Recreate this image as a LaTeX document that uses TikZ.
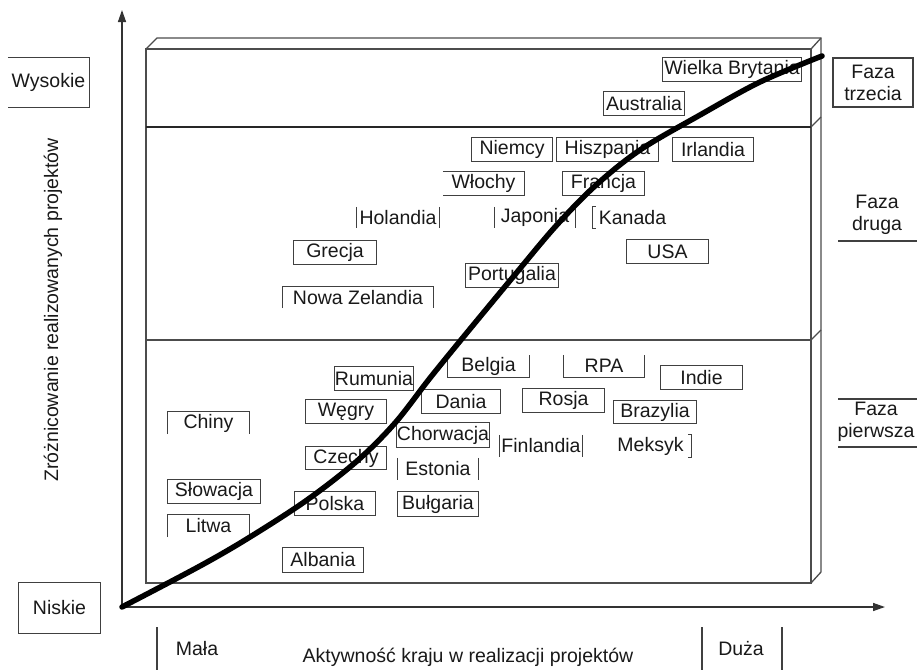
\documentclass[tikz,border=0pt]{standalone}
\usepackage{fontspec}
\setmainfont{Liberation Sans}
\usetikzlibrary{arrows.meta}
\newcommand\cnode[6]{\node[lbl, minimum width={(#4)-(#2)}, minimum height={(#5)-(#3)}] (#1) at ({((#2)+(#4))/2},{((#3)+(#5))/2}) {#6};}
\newcommand\boxfull[1]{\draw[cframe] (#1.south west) rectangle (#1.north east);}
\newcommand\boxopenbottom[1]{\draw[cframe] (#1.south west) -- (#1.north west) -- (#1.north east) -- (#1.south east);}
\newcommand\boxopentop[1]{\draw[cframe] (#1.north west) -- (#1.south west) -- (#1.south east) -- (#1.north east);}
\newcommand\boxopenleft[1]{\draw[cframe] (#1.north west) -- (#1.north east) -- (#1.south east) -- (#1.south west);}
\newcommand\boxsides[1]{\draw[cframe] (#1.north west) -- (#1.south west) (#1.north east) -- (#1.south east);}
\begin{document}
\begin{tikzpicture}[x=1pt,y=-1pt,
  lbl/.style={inner sep=0pt, font=\fontsize{19.5}{22}\selectfont, text=black!90},
  cframe/.style={draw=black!75, line width=1.1pt},
  boxline/.style={draw=black!70, line width=1.3pt},
  divline/.style={draw=black!85, line width=1.8pt},
  axis/.style={draw=black!80, line width=1.4pt, -{Triangle[length=12pt,width=8pt]}},
  curve/.style={draw=black, line width=5.5pt, line cap=round}]
\useasboundingbox (0,0) rectangle (917,670);

% 3D frame
\draw[boxline] (146,49) rectangle (811,583);
\draw[boxline] (146,49) -- (157,38) -- (821,38) -- (821,572) -- (811,583);
\draw[boxline] (811,49) -- (821,38);
\draw[divline] (146,127) -- (811,127);
\draw[boxline] (811,127) -- (821,117);
\draw[boxline] (146,340) -- (811,340);
\draw[boxline] (811,340) -- (821,330);

% axes
\coordinate (O) at (122,607);
\coordinate (Ytip) at (122,10);
\coordinate (Xtip) at (885,607);
\draw[axis] (O) -- (Ytip);
\draw[axis] (O) -- (Xtip);

% left labels
\cnode{wys}{8}{58}{89}{107}{Wysokie}
\draw[cframe] (wys.north west) -- (wys.north east) -- (wys.south east) -- (wys.south west);
\cnode{nis}{19}{583}{100}{633}{Niskie}
\boxfull{nis}
\node[lbl, rotate=90, font=\fontsize{19.5}{22}\selectfont] (ylab) at (53,310) {Zróżnicowanie realizowanych projektów};

% bottom labels
\node[lbl] (mala) at (197,649) {Mała};
\node[lbl] (xlab) at (468,657) {Aktywność kraju w realizacji projektów};
\node[lbl] (duza) at (741,649) {Duża};
\coordinate (m1) at (157,627); \coordinate (m2) at (157,670);
\coordinate (d1) at (702,627); \coordinate (d2) at (702,670);
\coordinate (d3) at (782,627); \coordinate (d4) at (782,670);
\draw[cframe] (m1) -- (m2) (d1) -- (d2) (d3) -- (d4);

% right labels
\node[lbl, draw=black!75, line width=1.1pt, minimum width=80pt, minimum height=49pt, align=center] (f3) at (873,82.5) {Faza\\trzecia};
\node[lbl, align=center] (f2) at (877,215) {Faza\\druga};
\coordinate (f2a) at (838,241); \coordinate (f2b) at (917,241);
\draw[cframe] (f2a) -- (f2b);
\node[lbl, align=center] (f1) at (876,422) {Faza\\pierwsza};
\coordinate (f1a) at (838,399); \coordinate (f1b) at (917,399);
\coordinate (f1c) at (838,447); \coordinate (f1d) at (917,447);
\draw[cframe] (f1a) -- (f1b) (f1c) -- (f1d);

% phase 3
\cnode{wb}{663}{58}{801}{81}{Wielka Brytania} \boxfull{wb}
\cnode{aus}{604}{92}{684}{115}{Australia} \boxfull{aus}
% phase 2
\cnode{irl}{673}{138}{753}{161}{Irlandia} \boxfull{irl}
\cnode{hisz}{557}{138}{658}{161}{Hiszpania} \boxfull{hisz}
\cnode{niem}{472}{138}{552}{161}{Niemcy} \boxfull{niem}
\cnode{wlo}{443}{172}{524}{195}{Włochy} \boxopenleft{wlo}
\cnode{fra}{563}{172}{644}{195}{Francja} \boxfull{fra}
\cnode{hol}{357}{207}{439}{228}{Holandia} \boxsides{hol}
\cnode{jap}{495}{207}{575}{228}{Japonia} \boxsides{jap}
\cnode{kan}{593}{207}{672}{228}{Kanada}
\draw[cframe] ([xshift=3pt]kan.north west) -- (kan.north west) -- (kan.south west) -- ([xshift=3pt]kan.south west);
\cnode{usa}{627}{240}{708}{263}{USA} \boxfull{usa}
\cnode{gre}{294}{241}{376}{264}{Grecja} \boxfull{gre}
\cnode{por}{466}{264}{558}{287}{Portugalia} \boxfull{por}
\cnode{nz}{283}{287}{433}{308}{Nowa Zelandia} \boxopenbottom{nz}
% phase 1
\cnode{bel}{448}{355}{529}{377}{Belgia} \boxopentop{bel}
\cnode{rpa}{564}{355}{644}{377}{RPA} \boxopentop{rpa}
\cnode{ind}{661}{366}{742}{389}{Indie} \boxfull{ind}
\cnode{rum}{335}{367}{413}{390}{Rumunia} \boxfull{rum}
\cnode{dan}{422}{390}{500}{413}{Dania} \boxfull{dan}
\cnode{ros}{523}{389}{604}{412}{Rosja} \boxfull{ros}
\cnode{weg}{306}{400}{386}{423}{Węgry} \boxfull{weg}
\cnode{bra}{614}{401}{696}{423}{Brazylia} \boxfull{bra}
\cnode{chi}{168}{412}{249}{434}{Chiny} \boxopenbottom{chi}
\cnode{cho}{397}{423}{489}{447}{Chorwacja} \boxfull{cho}
\cnode{fin}{500}{435}{582}{457}{Finlandia} \boxsides{fin}
\cnode{mek}{610}{435}{691}{457}{Meksyk}
\draw[cframe] ([xshift=-3pt]mek.north east) -- (mek.north east) -- (mek.south east) -- ([xshift=-3pt]mek.south east);
\cnode{cze}{306}{447}{386}{469}{Czechy} \boxfull{cze}
\cnode{est}{398}{458}{478}{480}{Estonia} \boxsides{est}
\cnode{slo}{168}{480}{260}{503}{Słowacja} \boxfull{slo}
\cnode{pol}{295}{492}{375}{515}{Polska} \boxfull{pol}
\cnode{bul}{398}{492}{478}{516}{Bułgaria} \boxfull{bul}
\cnode{lit}{168}{515}{249}{537}{Litwa} \boxopenbottom{lit}
\cnode{alb}{283}{548}{363}{572}{Albania} \boxfull{alb}

% S-curve
\draw[curve] plot[smooth, tension=0.55] coordinates {(O) (200,566) (250,537) (307,500) (357,461) (395,423) (430,378) (465,335) (513,277) (555,227) (595,186) (640,150) (700,115) (760,82) (822,56)};
\end{tikzpicture}
\end{document}
